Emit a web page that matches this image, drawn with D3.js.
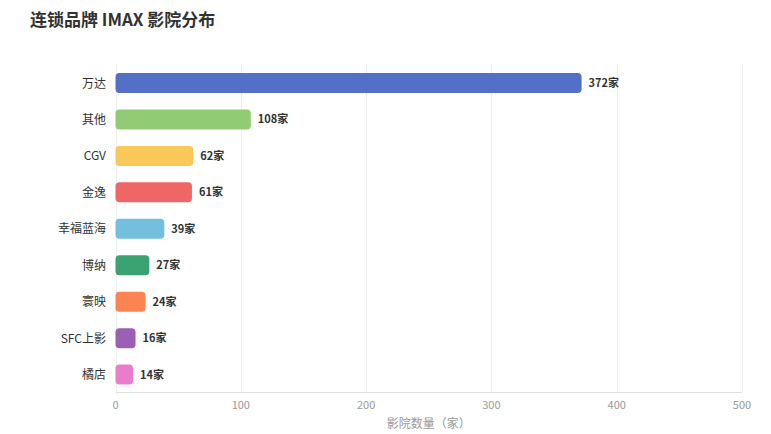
<!DOCTYPE html>
<html><head><meta charset="utf-8">
<script src="https://cdn.jsdelivr.net/npm/d3@7/dist/d3.min.js"></script>
<style>body{margin:0;background:#fff;font-family:"Noto Sans CJK SC","Noto Sans",sans-serif;}</style>
</head><body>
<svg id="c" width="771" height="434"></svg>
<script>
const categories = ["万达","其他","CGV","金逸","幸福蓝海","博纳","寰映","SFC上影","橘店"];
const values = [372,108,62,61,39,27,24,16,14];
const colors = ["#5470c6","#91cc75","#fac858","#ee6666","#73c0de","#3ba272","#fc8452","#9a60b4","#ea7ccc"];
const xTicks = [0,100,200,300,400,500];
const title = "连锁品牌 IMAX 影院分布";
const xName = "影院数量（家）";

const svg = d3.select("#c");
const m = {l:115.5, r:742, t:64, b:392};
const x = d3.scaleLinear().domain([0,500]).range([m.l,m.r]);
const y = d3.scaleBand().domain(categories).range([m.t+0.8,m.b+0.8]);

svg.append("text").attr("x",30).attr("y",26).attr("font-size",17).attr("font-weight","bold")
  .attr("fill","#333").text(title);

const g = svg.append("g");
g.selectAll("line.grid").data(xTicks).join("line").attr("class","grid")
  .attr("x1",d=>Math.round(x(d))+0.5).attr("x2",d=>Math.round(x(d))+0.5)
  .attr("y1",m.t).attr("y2",m.b).attr("stroke","#eeeeee").attr("stroke-width",1);
g.append("line").attr("x1",m.l).attr("x2",m.r).attr("y1",m.b+0.5).attr("y2",m.b+0.5).attr("stroke","#e0e0e0");

const bh = 20;
g.selectAll("rect.bar").data(values).join("rect").attr("class","bar")
  .attr("x",x(0)).attr("y",(d,i)=>y(categories[i])+y.bandwidth()/2-bh/2)
  .attr("width",d=>x(d)-x(0)).attr("height",bh).attr("rx",4).attr("ry",4)
  .attr("fill",(d,i)=>colors[i]);

g.selectAll("text.val").data(values).join("text").attr("class","val")
  .attr("x",d=>x(d)+7).attr("y",(d,i)=>y(categories[i])+y.bandwidth()/2+4)
  .attr("font-size",11).attr("font-weight","bold").attr("fill","#333").text(d=>d+"家");

g.selectAll("text.cat").data(categories).join("text").attr("class","cat")
  .attr("x",106).attr("y",d=>y(d)+y.bandwidth()/2+4.5).attr("text-anchor","end")
  .attr("font-size",12).attr("fill","#333").text(d=>d);

g.selectAll("text.xt").data(xTicks).join("text").attr("class","xt")
  .attr("x",d=>x(d)).attr("y",409).attr("text-anchor","middle")
  .attr("font-size",11).attr("fill","#999").text(d=>d);

svg.append("text").attr("x",(m.l+m.r)/2).attr("y",428).attr("text-anchor","middle")
  .attr("font-size",12).attr("fill","#999").text(xName);
</script>
</body></html>
